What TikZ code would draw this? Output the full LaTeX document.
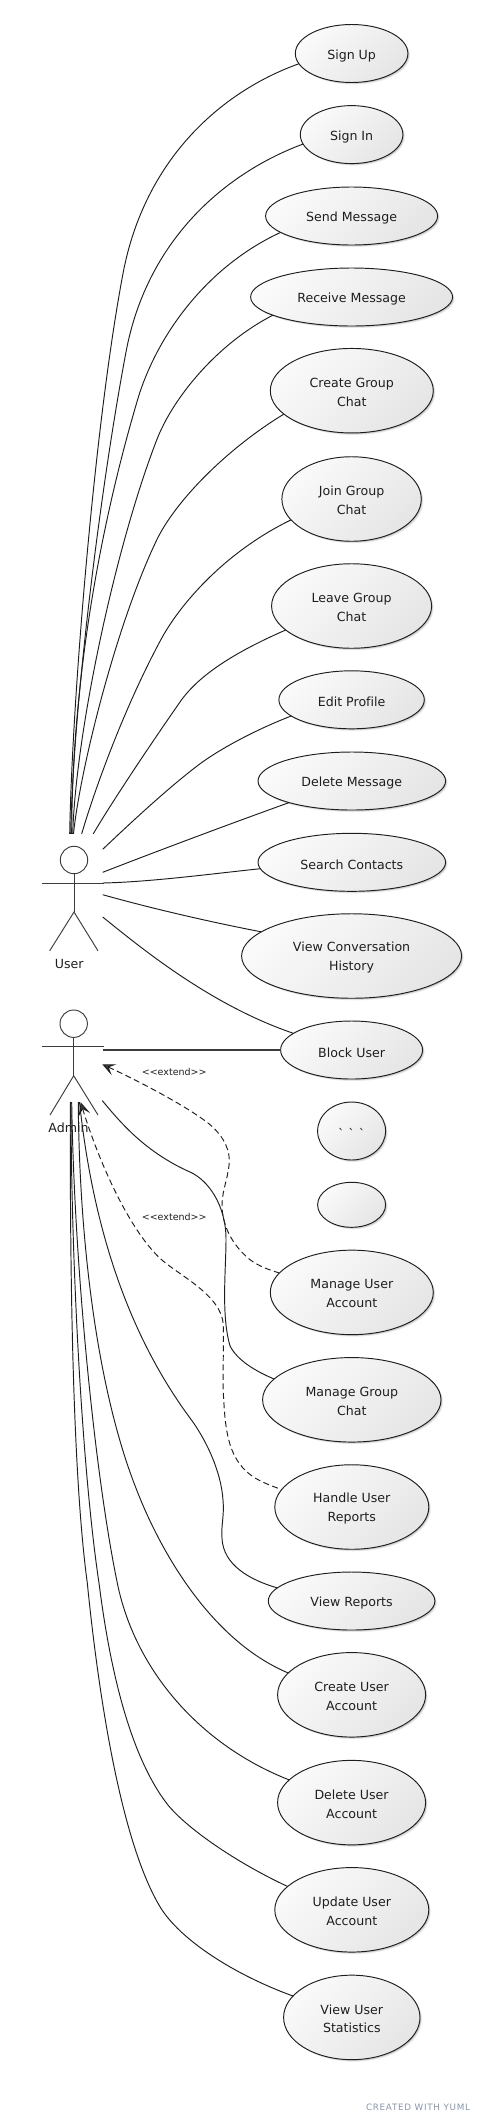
\documentclass[tikz,border=0pt]{standalone}
\usepackage{fontspec}
\usetikzlibrary{shapes.geometric,shadows,arrows.meta}
\newfontfamily\djfont[Ligatures=NoCommon]{DejaVu Sans}
\newfontfamily\wmfont[LetterSpace=8]{DejaVu Sans}
\definecolor{ink}{HTML}{1E1E1E}
\definecolor{actorink}{HTML}{3C3C3C}
\definecolor{wmcol}{HTML}{8894A8}
\newcommand\dnone[1]{\raisebox{-2.4pt}[\height][\depth]{#1}}
\newcommand\dntwo[1]{\raisebox{-1.4pt}[\height][\depth]{#1}}
\tikzset{
  ucase/.style={ellipse,draw=ink,line width=0.95pt,inner sep=0pt,outer sep=0pt,align=center,xshift=-0.7pt,
    text=ink,font=\djfont\fontsize{12.6}{18.7}\selectfont,
    drop shadow={shadow xshift=2pt,shadow yshift=-2pt,fill=black,opacity=.08},
    drop shadow={shadow xshift=1.2pt,shadow yshift=-1.2pt,fill=black,opacity=.12},
    shading=axis,top color=white!98!black,bottom color=white!90!black,shading angle=45},
  edge/.style={draw=ink,line width=0.95pt},
  dashedge/.style={draw=ink,line width=0.95pt,dash pattern=on 6pt off 3.5pt,
    {Stealth[length=13pt,width=12pt,inset=6pt,fill=actorink]}-},
  actorline/.style={draw=actorink,line width=0.95pt},
  lab/.style={font=\djfont\fontsize{12.6}{15}\selectfont,text=ink,inner sep=0pt},
  extlab/.style={font=\djfont\fontsize{9.5}{11}\selectfont,text=ink,inner sep=0pt}
}
\begin{document}
\begin{tikzpicture}[x=1pt,y=-1pt]
\useasboundingbox (0,0) rectangle (488,2123);
% use cases
\node[ucase,minimum width=112.6pt,minimum height=58pt] (nSignUp) at (352.3,53.5) {\dnone{Sign Up}};
\node[ucase,minimum width=102.6pt,minimum height=58pt] (nSignIn) at (352.3,134.6) {\dnone{Sign In}};
\node[ucase,minimum width=172pt,minimum height=58pt] (nSend) at (352.3,216) {\dnone{Send Message}};
\node[ucase,minimum width=202pt,minimum height=58pt] (nReceive) at (352.3,297) {\dnone{Receive Message}};
\node[ucase,minimum width=163pt,minimum height=84.5pt] (nCreateG) at (352.5,390.7) {\dntwo{Create Group}\\\dntwo{Chat}};
\node[ucase,minimum width=139.4pt,minimum height=84.5pt] (nJoin) at (352.3,499) {\dntwo{Join Group}\\\dntwo{Chat}};
\node[ucase,minimum width=160pt,minimum height=84.5pt] (nLeave) at (352.3,606) {\dntwo{Leave Group}\\\dntwo{Chat}};
\node[ucase,minimum width=145.4pt,minimum height=58pt] (nEdit) at (352.3,699.8) {\dnone{Edit Profile}};
\node[ucase,minimum width=187.6pt,minimum height=58pt] (nDelete) at (352.5,781) {\dnone{Delete Message}};
\node[ucase,minimum width=187.6pt,minimum height=58pt] (nSearch) at (352.5,862.3) {\dnone{Search Contacts}};
\node[ucase,minimum width=220pt,minimum height=84.5pt] (nConv) at (352.3,956) {\dntwo{View Conversation}\\\dntwo{History}};
\node[ucase,minimum width=142pt,minimum height=58pt] (nBlock) at (352.3,1050) {\dnone{Block User}};
\node[ucase,minimum width=68pt,minimum height=58pt] (nTicks) at (352.3,1131) {\dnone{` ` `}};
\node[ucase,minimum width=68pt,minimum height=45pt] (nBlank) at (352.3,1204.8) {};
\node[ucase,minimum width=163pt,minimum height=84.5pt] (nMUA) at (352.5,1292.4) {\dntwo{Manage User}\\\dntwo{Account}};
\node[ucase,minimum width=178.4pt,minimum height=84.5pt] (nMGC) at (352.5,1399.8) {\dntwo{Manage Group}\\\dntwo{Chat}};
\node[ucase,minimum width=154pt,minimum height=84.5pt] (nHandle) at (352.5,1507) {\dntwo{Handle User}\\\dntwo{Reports}};
\node[ucase,minimum width=166.6pt,minimum height=58pt] (nReports) at (352.3,1601) {\dnone{View Reports}};
\node[ucase,minimum width=148pt,minimum height=84.5pt] (nCUA) at (352.3,1694.8) {\dntwo{Create User}\\\dntwo{Account}};
\node[ucase,minimum width=148pt,minimum height=84.5pt] (nDUA) at (352.3,1802.6) {\dntwo{Delete User}\\\dntwo{Account}};
\node[ucase,minimum width=154pt,minimum height=84.5pt] (nUUA) at (352.5,1909.8) {\dntwo{Update User}\\\dntwo{Account}};
\node[ucase,minimum width=136.4pt,minimum height=84.5pt] (nStats) at (352.5,2017.4) {\dntwo{View User}\\\dntwo{Statistics}};
% actors
\node[circle,actorline,inner sep=0pt,minimum size=27.4pt] (userHead) at (74,860) {};
\coordinate (userHip) at (74,912);
\coordinate (userFootL) at (49.7,950.8);
\coordinate (userFootR) at (98,950.8);
\coordinate (userArmL) at (42.3,883);
\coordinate (userArmR) at (104,883);
\draw[actorline] (userHead.south) -- (userHip);
\draw[actorline] (userArmL) -- (userArmR);
\draw[actorline] (userFootL) -- (userHip) -- (userFootR);
\node[lab] (userLabel) at (69.3,963.6) {User};
\node[circle,actorline,inner sep=0pt,minimum size=27.4pt] (adminHead) at (73.7,1023.7) {};
\coordinate (adminHip) at (73.7,1075.7);
\coordinate (adminFootL) at (50,1115);
\coordinate (adminFootR) at (98,1115);
\coordinate (adminArmL) at (42.3,1046.7);
\coordinate (adminArmR) at (104,1046.7);
\draw[actorline] (adminHead.south) -- (adminHip);
\draw[actorline] (adminArmL) -- (adminArmR);
\draw[actorline] (adminFootL) -- (adminHip) -- (adminFootR);
\node[lab] (adminLabel) at (68.5,1127.5) {Admin};
% free ends at the actors
\coordinate (uUp) at (69.7,833.8);
\coordinate (uIn) at (70.7,833.8);
\coordinate (uSend) at (71.7,833.8);
\coordinate (uRecv) at (72.7,833.8);
\coordinate (uCreate) at (73.5,833.8);
\coordinate (uJoin) at (81.7,833.8);
\coordinate (uLeave) at (93.3,833.8);
\coordinate (uEdit) at (102.7,849.3);
\coordinate (uDelete) at (102.7,872.3);
\coordinate (uSearch) at (102.7,883);
\coordinate (uConv) at (102.7,894.7);
\coordinate (uBlock) at (102.7,917);
\coordinate (aBlock) at (102.7,1050);
\coordinate (aExt1) at (102.3,1064.3);
\coordinate (aMGC) at (102.3,1100.6);
\coordinate (aExt2) at (80.7,1102.3);
\coordinate (aStats) at (70.3,1102);
\coordinate (aUUA) at (71,1102);
\coordinate (aDUA) at (71.7,1102);
\coordinate (aCUA) at (78.3,1102);
\coordinate (aReports) at (79.5,1102);
% user edges
\draw[edge] (uUp) .. controls (72,700) and (95,420) .. (123.3,272) .. controls (145,160) and (220,92) .. (nSignUp.191.6);
\draw[edge] (uIn) .. controls (73,710) and (100,490) .. (126,352) .. controls (147,240) and (225,173) .. (nSignIn.191.5);
\draw[edge] (uSend) .. controls (72,690) and (97,535) .. (139,395) .. controls (160,330) and (210,265) .. (nSend.193.1);
\draw[edge] (uRecv) .. controls (76,730) and (116,545) .. (156.7,440) .. controls (172,400) and (215,345) .. (nReceive.193.4);
\draw[edge] (uCreate) .. controls (80,770) and (116,625) .. (156.7,540) .. controls (175,502) and (225,450) .. (nCreateG.199.4);
\draw[edge] (uJoin) .. controls (93,795) and (122,712) .. (160.7,640) .. controls (180,604) and (225,552) .. (nJoin.199);
\draw[edge] (uLeave) .. controls (110,805) and (150,745) .. (180,702) .. controls (200,673) and (240,650) .. (nLeave.200.4);
\draw[edge] (uEdit) .. controls (120,833) and (165,790) .. (200,763.8) .. controls (220,749) and (255,730) .. (nEdit.195.4);
\draw[edge] (uDelete) .. controls (160,850) and (235,822) .. (nDelete.199.2);
\draw[edge] (uSearch) .. controls (150,882) and (210,874) .. (nSearch.184.9);
\draw[edge] (uConv) .. controls (150,908) and (210,922) .. (nConv.165.9);
\draw[edge] (uBlock) .. controls (140,947) and (210,1005) .. (nBlock.164.8);
% admin edges
\draw[edge,line width=1.5pt,draw=actorink] (aBlock) -- (nBlock.180);
\draw[edge] (aMGC) .. controls (120,1122) and (145,1152) .. (190,1172) .. controls (208,1180) and (226,1205) .. (226,1239) .. controls (226,1270) and (221,1315) .. (230,1345.8) .. controls (237,1360) and (255,1371) .. (nMGC.165);
\draw[dashedge] (aExt1) .. controls (130,1077) and (180,1102) .. (206.7,1122) .. controls (220,1132) and (229.3,1146) .. (229.3,1160) .. controls (229.3,1175) and (222,1190) .. (222,1205) .. controls (222,1225) and (232,1245) .. (250,1259.7) .. controls (260,1267) and (270,1270) .. (nMUA.165.5);
\draw[dashedge] (aExt2) .. controls (95,1150) and (125,1225) .. (160,1258.3) .. controls (178,1275) and (222,1295) .. (223.3,1325) .. controls (224,1350) and (222,1380) .. (224,1404.4) .. controls (226,1440) and (232,1462) .. (253,1476.7) .. controls (263,1483) and (272,1486) .. (nHandle.166.3);
\draw[edge] (aReports) .. controls (92,1220) and (125,1330) .. (190,1418) .. controls (205,1438) and (221,1470) .. (223,1500) .. controls (224.5,1515) and (221,1525) .. (222,1538) .. controls (223,1565) and (250,1580) .. (nReports.170.9);
\draw[edge] (aCUA) .. controls (79,1230) and (95,1385) .. (136.7,1490) .. controls (160,1550) and (210,1640) .. (nCUA.161.6);
\draw[edge] (aDUA) .. controls (74,1260) and (94,1470) .. (117.3,1583) .. controls (135,1670) and (200,1745) .. (nDUA.160.6);
\draw[edge] (aUUA) .. controls (71,1260) and (82,1470) .. (99,1583) .. controls (110,1670) and (130,1755) .. (166.7,1803.4) .. controls (185,1827) and (235,1862) .. (nUUA.160.5);
\draw[edge] (aStats) .. controls (70,1260) and (72,1470) .. (87.3,1583) .. controls (98,1690) and (120,1840) .. (160,1906.7) .. controls (180,1940) and (235,1975) .. (nStats.160.5);
% labels
\node[extlab] (ext1) at (174.2,1072) {<<extend>>};
\node[extlab] (ext2) at (174.2,1217) {<<extend>>};
\node[inner sep=0pt,font=\wmfont\fontsize{8.8}{10}\selectfont,text=wmcol] (wm) at (418,2106.8) {CREATED WITH YUML};
\end{tikzpicture}
\end{document}
